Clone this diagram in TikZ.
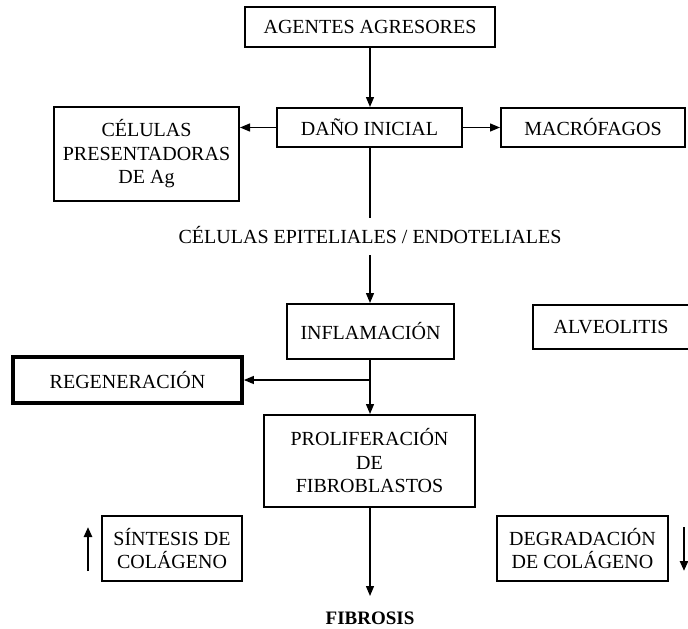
\documentclass[tikz,border=0pt]{standalone}
\usepackage{fontspec}
\setmainfont{Liberation Serif}
\usetikzlibrary{arrows.meta}
\begin{document}
\begin{tikzpicture}[x=1pt,y=-1pt,
  box/.style={draw,line width=2pt,inner sep=0pt,align=center,
    font=\fontsize{20}{23.5}\selectfont},
  thickbox/.style={box,line width=3.8pt},
  flow/.style={line width=1.3pt,-{Triangle[length=10pt,width=8pt]}},
  plain/.style={line width=1.3pt},
  trend/.style={line width=2.4pt,-{Triangle[length=10pt,width=8pt]}},
  label/.style={inner sep=0pt,font=\fontsize{20}{23.5}\selectfont}]
\useasboundingbox (0,0) rectangle (688,629);

% boxes
\node[box,minimum width=250pt,minimum height=40pt] (agentes) at (370,27) {AGENTES AGRESORES};
\node[box,minimum width=185pt,minimum height=39pt] (dano) at (369.5,127.5) {DAÑO INICIAL};
\node[box,minimum width=185pt,minimum height=94pt] (presentadoras) at (146.5,154) {CÉLULAS\\PRESENTADORAS\\DE Ag};
\node[box,minimum width=184pt,minimum height=39pt] (macro) at (593,127.5) {MACRÓFAGOS};
\node[label] (epitelio) at (370,235) {CÉLULAS EPITELIALES / ENDOTELIALES};
\node[box,minimum width=167pt,minimum height=55pt] (inflam) at (370.5,331.5) {INFLAMACIÓN};
\node[box,minimum width=156pt,minimum height=44pt] (alveo) at (611,327) {ALVEOLITIS};
\node[thickbox,minimum width=229pt,minimum height=46pt] (regen) at (127.5,380) {REGENERACIÓN};
\node[box,minimum width=211pt,minimum height=92pt] (prolif) at (369.5,461) {PROLIFERACIÓN\\DE\\FIBROBLASTOS};
\node[box,minimum width=140pt,minimum height=65pt] (sintesis) at (172,548.5) {SÍNTESIS DE\\COLÁGENO};
\node[box,minimum width=171pt,minimum height=65pt] (degrad) at (582.5,548.5) {DEGRADACIÓN\\DE COLÁGENO};
\node[label,anchor=base,font=\fontsize{19}{23}\selectfont\bfseries] (fibrosis) at (370,624.5) {FIBROSIS};

% helper points on the central spine and beside the collagen boxes
\coordinate (dano-out) at (370,147);
\coordinate (epiTop) at (370,218);
\coordinate (epiBot) at (370,255);
\coordinate (branch) at (370,380);
\coordinate (fibTop) at (370,596);
\coordinate (upLow) at (88,571);
\coordinate (upHigh) at (88,527);
\coordinate (downHigh) at (684,527);
\coordinate (downLow) at (684,571);

% connectors
\draw[flow] (agentes.south -| dano-out) -- (dano.north -| dano-out);
\draw[flow] (dano.west) -- (dano.west -| presentadoras.east);
\draw[flow] (dano.east) -- (dano.east -| macro.west);
\draw[plain] (dano-out) -- (epiTop);
\draw[flow] (epiBot) -- (inflam.north -| dano-out);
\draw[flow] (inflam.south -| dano-out) -- (prolif.north -| dano-out);
\draw[flow] (branch) -- (branch -| regen.east);
\draw[flow] (prolif.south -| dano-out) -- (fibTop);
\draw[trend] (upLow) -- (upHigh);
\draw[trend] (downHigh) -- (downLow);
\end{tikzpicture}
\end{document}
